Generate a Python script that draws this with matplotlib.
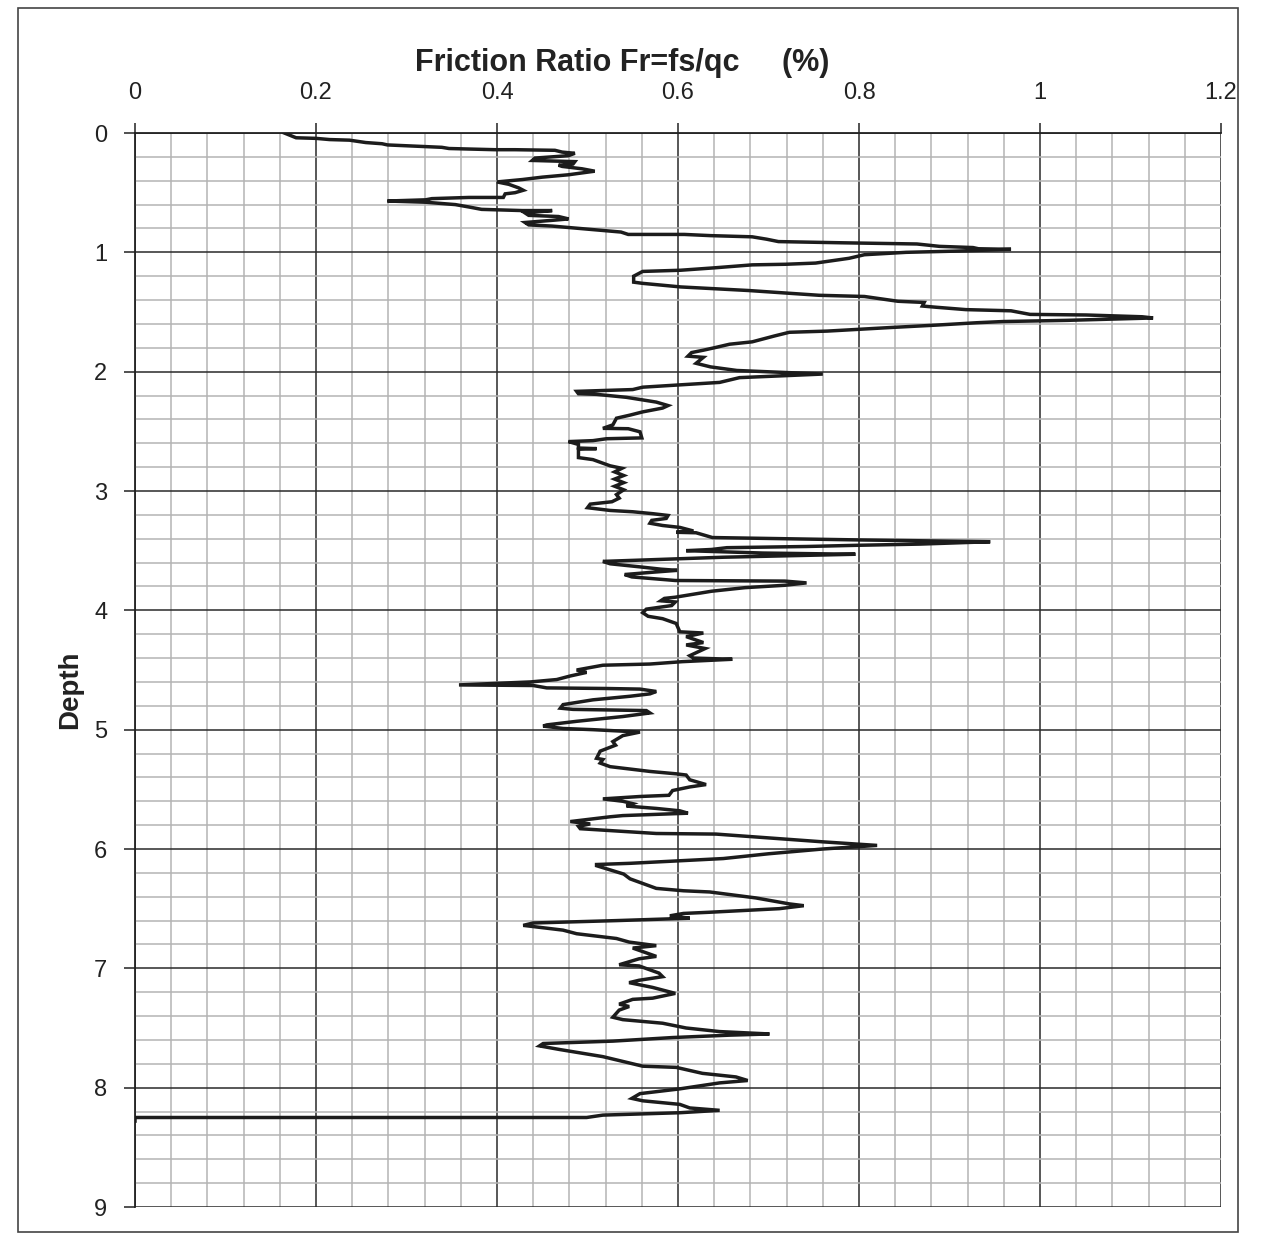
import matplotlib
matplotlib.use("Agg")
import matplotlib.pyplot as plt
from matplotlib.ticker import MultipleLocator, FixedLocator
from matplotlib.patches import Rectangle

plt.rcParams['font.family'] = ['Liberation Sans', 'DejaVu Sans']

# ---- data: friction ratio (%) vs depth ----
friction_ratio = [
    0.165, 0.178, 0.200, 0.215, 0.237, 0.255, 0.273, 0.279, 0.339, 0.347, 0.398, 0.420, 0.464, 0.472,
    0.486, 0.479, 0.442, 0.439, 0.486, 0.484, 0.468, 0.472, 0.494, 0.508, 0.479, 0.450, 0.428, 0.400,
    0.413, 0.424, 0.429, 0.420, 0.409, 0.407, 0.369, 0.328, 0.321, 0.279, 0.321, 0.354, 0.369, 0.383,
    0.428, 0.461, 0.431, 0.435, 0.468, 0.479, 0.464, 0.431, 0.435, 0.461, 0.491,
    0.537, 0.545, 0.607, 0.636, 0.682, 0.698, 0.711, 0.781, 0.864, 0.889, 0.926, 0.932, 0.968, 0.906,
    0.852, 0.806, 0.789, 0.752, 0.719, 0.682, 0.640, 0.603, 0.561, 0.551, 0.551, 0.561, 0.603, 0.678,
    0.756, 0.806, 0.843, 0.872, 0.870, 0.885, 0.918, 0.968, 0.989, 1.051, 1.113, 1.125, 1.030, 0.959,
    0.930, 0.885, 0.835, 0.765, 0.723, 0.707, 0.682, 0.657, 0.640, 0.628, 0.615, 0.611, 0.628, 0.620,
    0.636, 0.665,
    0.760, 0.668, 0.646, 0.561, 0.550, 0.510, 0.488, 0.490, 0.510, 0.543, 0.576, 0.589, 0.583, 0.561,
    0.547, 0.532, 0.528, 0.517, 0.545, 0.558, 0.560, 0.521, 0.506, 0.479, 0.490, 0.490, 0.510, 0.490,
    0.490, 0.506, 0.525, 0.538, 0.530, 0.540, 0.530, 0.540, 0.530, 0.540, 0.532, 0.535, 0.527, 0.503,
    0.500, 0.525, 0.550, 0.572, 0.589, 0.587, 0.571, 0.569, 0.583, 0.602, 0.617, 0.598, 0.620, 0.638,
    0.800, 0.945,
    0.867, 0.798, 0.742, 0.654, 0.637, 0.609, 0.694, 0.796, 0.650, 0.573, 0.517, 0.525, 0.557, 0.581,
    0.599, 0.573, 0.541, 0.549, 0.597, 0.718, 0.742, 0.718, 0.674, 0.637, 0.613, 0.597, 0.585, 0.581,
    0.597, 0.593, 0.565, 0.561, 0.567, 0.583,
    0.598, 0.602, 0.628, 0.609, 0.628, 0.609, 0.630, 0.613, 0.617, 0.660, 0.605, 0.569, 0.517, 0.495,
    0.488, 0.499, 0.481, 0.466, 0.437, 0.358, 0.440, 0.455, 0.521, 0.558, 0.576, 0.569, 0.547, 0.506,
    0.473, 0.470, 0.484, 0.565, 0.569, 0.539, 0.488, 0.455, 0.451, 0.473, 0.506, 0.558, 0.539, 0.528,
    0.531, 0.514, 0.510, 0.517, 0.514, 0.525, 0.569, 0.598, 0.609, 0.613, 0.631, 0.613, 0.594, 0.590,
    0.558, 0.517, 0.539, 0.550, 0.543, 0.576, 0.602, 0.611, 0.576, 0.539, 0.525, 0.481, 0.503, 0.490,
    0.492, 0.576, 0.642, 0.705, 0.760, 0.820,
    0.760, 0.700, 0.650, 0.547, 0.510, 0.510, 0.540, 0.547, 0.576, 0.606, 0.635, 0.686, 0.723, 0.739,
    0.712, 0.635, 0.606, 0.591, 0.613, 0.532, 0.440, 0.429, 0.451, 0.473, 0.488, 0.532, 0.546, 0.576,
    0.550, 0.561, 0.576, 0.557, 0.535, 0.557, 0.579, 0.583, 0.557, 0.546, 0.572, 0.592, 0.597, 0.572,
    0.550, 0.535, 0.546, 0.535, 0.528, 0.539, 0.583, 0.609, 0.646, 0.701, 0.657, 0.594, 0.528, 0.451,
    0.447, 0.469, 0.517, 0.561, 0.598, 0.627, 0.664, 0.677, 0.646, 0.602, 0.558, 0.549, 0.561, 0.602,
    0.613, 0.646, 0.602, 0.517, 0.499, 0.000, 0.000,
]
depth = [
    0.00, 0.04, 0.045, 0.055, 0.06, 0.08, 0.09, 0.10, 0.12, 0.13, 0.14, 0.14, 0.145, 0.16,
    0.17, 0.19, 0.21, 0.23, 0.24, 0.26, 0.27, 0.28, 0.30, 0.32, 0.35, 0.37, 0.39, 0.41,
    0.43, 0.46, 0.48, 0.50, 0.51, 0.54, 0.54, 0.55, 0.56, 0.57, 0.58, 0.60, 0.62, 0.64,
    0.65, 0.65, 0.67, 0.69, 0.70, 0.72, 0.73, 0.75, 0.77, 0.78, 0.80,
    0.83, 0.85, 0.85, 0.86, 0.87, 0.89, 0.91, 0.92, 0.93, 0.95, 0.96, 0.97, 0.975, 0.99,
    1.00, 1.02, 1.05, 1.09, 1.10, 1.105, 1.13, 1.15, 1.16, 1.20, 1.25, 1.26, 1.29, 1.32,
    1.36, 1.37, 1.41, 1.42, 1.45, 1.46, 1.48, 1.49, 1.52, 1.525, 1.54, 1.55, 1.57, 1.58,
    1.59, 1.61, 1.63, 1.66, 1.67, 1.70, 1.75, 1.77, 1.80, 1.82, 1.84, 1.87, 1.88, 1.93,
    1.96, 1.99,
    2.02, 2.05, 2.09, 2.13, 2.15, 2.16, 2.165, 2.185, 2.19, 2.215, 2.255, 2.284, 2.305, 2.337,
    2.364, 2.39, 2.446, 2.475, 2.478, 2.504, 2.555, 2.562, 2.578, 2.586, 2.61, 2.64, 2.645, 2.65,
    2.72, 2.737, 2.789, 2.81, 2.84, 2.87, 2.90, 2.93, 2.96, 2.99, 3.03, 3.06, 3.09, 3.11,
    3.14, 3.163, 3.174, 3.19, 3.205, 3.23, 3.246, 3.27, 3.289, 3.305, 3.335, 3.346, 3.35, 3.39,
    3.41, 3.425,
    3.445, 3.455, 3.465, 3.475, 3.49, 3.50, 3.52, 3.53, 3.555, 3.575, 3.59, 3.61, 3.635, 3.655,
    3.665, 3.68, 3.70, 3.72, 3.75, 3.755, 3.77, 3.79, 3.81, 3.84, 3.87, 3.89, 3.90, 3.92,
    3.93, 3.96, 3.99, 4.02, 4.05, 4.07,
    4.11, 4.18, 4.19, 4.22, 4.27, 4.29, 4.32, 4.38, 4.40, 4.41, 4.43, 4.45, 4.46, 4.49,
    4.50, 4.52, 4.55, 4.58, 4.60, 4.625, 4.63, 4.65, 4.655, 4.66, 4.68, 4.70, 4.72, 4.75,
    4.79, 4.82, 4.83, 4.84, 4.86, 4.89, 4.93, 4.96, 4.97, 4.99, 5.00, 5.02, 5.05, 5.10,
    5.13, 5.18, 5.24, 5.25, 5.28, 5.31, 5.35, 5.37, 5.38, 5.42, 5.46, 5.48, 5.51, 5.55,
    5.56, 5.58, 5.60, 5.62, 5.64, 5.66, 5.68, 5.70, 5.71, 5.72, 5.73, 5.77, 5.79, 5.81,
    5.83, 5.87, 5.875, 5.91, 5.94, 5.97,
    6.00, 6.04, 6.08, 6.12, 6.13, 6.14, 6.21, 6.25, 6.33, 6.35, 6.36, 6.41, 6.46, 6.475,
    6.50, 6.53, 6.54, 6.56, 6.58, 6.60, 6.62, 6.64, 6.66, 6.68, 6.71, 6.75, 6.78, 6.81,
    6.83, 6.86, 6.90, 6.92, 6.97, 6.98, 7.04, 7.07, 7.10, 7.12, 7.16, 7.20, 7.21, 7.25,
    7.26, 7.30, 7.32, 7.35, 7.41, 7.43, 7.46, 7.50, 7.53, 7.55, 7.56, 7.58, 7.61, 7.63,
    7.65, 7.68, 7.74, 7.82, 7.83, 7.88, 7.91, 7.94, 7.96, 8.01, 8.05, 8.09, 8.11, 8.14,
    8.17, 8.19, 8.21, 8.23, 8.25, 8.25, 8.28,
]

x_ticks = [0, 0.2, 0.4, 0.6, 0.8, 1.0, 1.2]
x_tick_labels = ['0', '0.2', '0.4', '0.6', '0.8', '1', '1.2']
y_ticks = [0, 1, 2, 3, 4, 5, 6, 7, 8, 9]
title_text = 'Friction Ratio Fr=fs/qc     (%)'
ylabel_text = 'Depth'

W, H = 1262, 1242
fig = plt.figure(figsize=(W / 100, H / 100), dpi=100)
ax = fig.add_axes([135 / W, 1 - 1207 / H, (1221 - 135) / W, (1207 - 133) / H])

ax.set_xlim(0, 1.2)
ax.set_ylim(9, 0)

ax.xaxis.set_major_locator(FixedLocator(x_ticks))
ax.xaxis.set_minor_locator(MultipleLocator(0.04))
ax.yaxis.set_major_locator(FixedLocator(y_ticks))
ax.yaxis.set_minor_locator(MultipleLocator(0.2))
ax.set_xticklabels(x_tick_labels)

ax.grid(which='minor', color='#b4b4b4', linewidth=1.1)
ax.grid(which='major', color='#2a2a2a', linewidth=1.1)
ax.set_axisbelow(True)

ax.xaxis.tick_top()
ax.tick_params(axis='x', which='major', direction='out', length=7, width=1.1,
               labelsize=17, pad=14, colors='#222')
ax.tick_params(axis='y', which='major', direction='out', length=8, width=1.1,
               labelsize=17, pad=12, colors='#222')
ax.tick_params(which='minor', length=0)

for s in ['right', 'bottom']:
    ax.spines[s].set_visible(False)
for s in ['top', 'left']:
    ax.spines[s].set_color('#222')
    ax.spines[s].set_linewidth(1.3)

# lighten the bottom (depth 9) gridline like the reference
for t in ax.yaxis.get_major_ticks():
    if abs(t.get_loc() - 9) < 1e-9:
        t.gridline.set_color('#b4b4b4')

ax.plot(friction_ratio, depth, color='#1c1c1c', linewidth=2.5, solid_joinstyle='miter', zorder=5)

fig.text(0.493, 1 - 63 / H, title_text, fontsize=22, fontweight='bold', ha='center', va='center', color='#222')
fig.text(70 / W, 1 - 690 / H, ylabel_text, fontsize=20, fontweight='bold', rotation=90,
         ha='center', va='center', color='#222')

fig.add_artist(Rectangle((18 / W, 1 - 1232 / H), (1238 - 18) / W, (1232 - 8) / H,
                         transform=fig.transFigure, fill=False, edgecolor='#444', linewidth=1.2))

fig.savefig('out.png', dpi=100, facecolor='white')
